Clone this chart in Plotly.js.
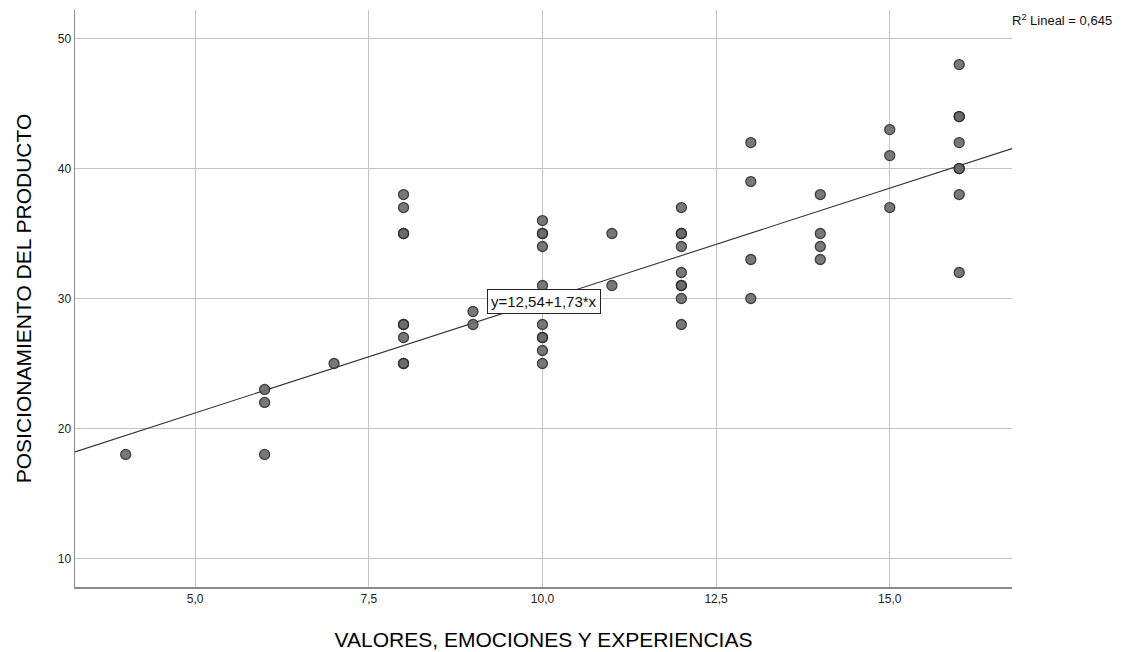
<!DOCTYPE html>
<html>
<head>
<meta charset="utf-8">
<script src="https://cdn.plot.ly/plotly-3.0.1.min.js"></script>
<style>html,body{margin:0;padding:0;background:#fff;}#chart{width:1124px;height:652px;}</style>
</head>
<body>
<div id="chart"></div>
<script>
// Data (x = VALORES..., y = POSICIONAMIENTO...)
const xValues = [4,
  6,6,6,
  7,
  8,8,8,8,8,8,8,8,8,
  9,9,
  10,10,10,10,10,10,10,10,10,10,
  11,11,
  12,12,12,12,12,12,12,12,12,
  13,13,13,13,
  14,14,14,14,
  15,15,15,
  16,16,16,16,16,16,16,16];
const yValues = [18,
  23,22,18,
  25,
  38,37,35,35,28,28,27,25,25,
  29,28,
  36,35,35,34,31,28,27,27,26,25,
  35,31,
  37,35,35,34,32,31,31,30,28,
  42,39,33,30,
  38,35,34,33,
  43,41,37,
  48,44,44,42,40,40,38,32];
const intercept = 12.54;
const slope = 1.73;
const r2Text = "R<sup>2</sup> Lineal = 0,645";
const eqText = "y=12,54+1,73*x";
const xTickVals = [5, 7.5, 10, 12.5, 15];
const xTickText = ["5,0", "7,5", "10,0", "12,5", "15,0"];
const yTickVals = [10, 20, 30, 40, 50];
const yTickText = ["10", "20", "30", "40", "50"];
const xRange = [3.27, 16.76];
const yRange = [7.8, 52.2];

const lineX = [xRange[0], xRange[1]];
const lineY = lineX.map(v => intercept + slope * v);

const traces = [
  {x: lineX, y: lineY, mode: 'lines', type: 'scatter',
   line: {color: '#333333', width: 1.1}, hoverinfo: 'skip', showlegend: false},
  {x: xValues, y: yValues, mode: 'markers', type: 'scatter',
   marker: {size: 10, color: '#6a6a6a', opacity: 0.9, line: {color: '#2b2b2b', width: 1.3}},
   showlegend: false}
];

const font = "Liberation Sans, Arial, sans-serif";
const layout = {
  width: 1124, height: 652,
  margin: {l: 75, r: 112, t: 10, b: 65},
  paper_bgcolor: '#ffffff', plot_bgcolor: '#ffffff',
  font: {family: font, color: '#222'},
  xaxis: {
    range: xRange, tickvals: xTickVals, ticktext: xTickText,
    showgrid: true, gridcolor: '#c4c4c4', gridwidth: 1,
    zeroline: false, showline: true, linecolor: '#8a8a8a', linewidth: 1.5,
    ticks: '', tickfont: {family: font, size: 12, color: '#222'},
    title: {text: 'VALORES, EMOCIONES Y EXPERIENCIAS', standoff: 27,
            font: {family: font, size: 21, color: '#000'}}
  },
  yaxis: {
    range: yRange, tickvals: yTickVals, ticktext: yTickText,
    showgrid: true, gridcolor: '#c4c4c4', gridwidth: 1,
    zeroline: false, showline: true, linecolor: '#8a8a8a', linewidth: 1.5,
    ticks: '', ticklen: 0, tickfont: {family: font, size: 12, color: '#222'},
    title: {text: 'POSICIONAMIENTO DEL PRODUCTO', standoff: 20,
            font: {family: font, size: 21, color: '#000'}}
  },
  annotations: [
    {x: 10.02, y: 29.75, xref: 'x', yref: 'y', text: eqText, showarrow: false,
     bgcolor: '#ffffff', bordercolor: '#222', borderwidth: 1, borderpad: 3,
     font: {family: font, size: 15, color: '#111'}},
    {x: 1.0, y: 1.0, xref: 'paper', yref: 'paper', xanchor: 'left', yanchor: 'bottom',
     xshift: -2, yshift: -20, text: r2Text, showarrow: false,
     font: {family: font, size: 13, color: '#111'}}
  ]
};

Plotly.newPlot('chart', traces, layout, {displayModeBar: false, staticPlot: true});
</script>
</body>
</html>
